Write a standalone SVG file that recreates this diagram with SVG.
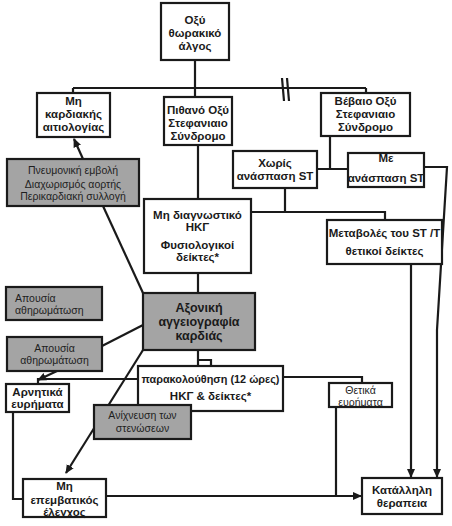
<svg xmlns="http://www.w3.org/2000/svg" width="452" height="526" viewBox="0 0 452 526">
<defs>
<marker id="ah" markerWidth="9" markerHeight="9" refX="8" refY="4.5" orient="auto" markerUnits="userSpaceOnUse">
<path d="M0,0.5 L9,4.5 L0,8.5 Z" fill="#1a1a1a"/>
</marker>
</defs>
<style>
.b{fill:#fff;stroke:#1a1a1a;stroke-width:2.2}
.g{fill:#a4a4a4;stroke:#1a1a1a;stroke-width:2.2}
.t{font-family:"Liberation Sans",Arial,sans-serif;font-size:11.5px;font-weight:bold;fill:#1a1a1a;text-anchor:middle}
.n{font-family:"Liberation Sans",Arial,sans-serif;font-size:10.5px;fill:#1e1e1e;text-anchor:middle}
.l{fill:none;stroke:#1a1a1a;stroke-width:2.2}
.a{fill:none;stroke:#1a1a1a;stroke-width:2.2;marker-end:url(#ah)}
</style>
<rect width="452" height="526" fill="#fff"/>
<g id="connectors">
<path class="l" d="M195,60 V88 M73,88 H366 M73,88 V93 M195,88 V97 M366,88 V93"/>
<path class="l" d="M282,78 L284,101 M287,78 L289,101"/>
<path class="l" d="M330,136 V169 M317,169 H348"/>
<path class="l" d="M424,167 H447 L437,330"/>
<path class="a" d="M437,330 V477"/>
<path class="l" d="M285,188 V212 M251,212 H385 V220"/>
<path class="l" d="M198,145 V199 M198,273 V293"/>
<path class="a" d="M411,264 V477"/>
<path class="a" d="M83,159 L74,139"/>
<path class="l" d="M103,206 L143,293"/>
<path class="l" d="M143,325 L102,346"/>
<path class="a" d="M57,371 L38,380"/>
<path class="l" d="M198,350 V366 M198,360 H211 V366"/>
<path class="l" d="M138,379 H38 V384"/>
<path class="l" d="M283,377 H362 V383"/>
<path class="a" d="M143,350 L66,473"/>
<path class="l" d="M13,412 V499 H23"/>
<path class="a" d="M106,496 H361"/>
<path class="l" d="M336,407 V496"/>
</g>
<g id="n_top"><rect class="b" x="161" y="3" width="68" height="57"/>
<text class="t" x="195" y="24">Οξύ</text><text class="t" x="195" y="37">θωρακικό</text><text class="t" x="195" y="50">άλγος</text></g>
<g id="n_noncard"><rect class="b" x="37" y="93" width="73" height="44"/>
<text class="t" x="73.5" y="105">Μη</text><text class="t" x="73.5" y="118">καρδιακής</text><text class="t" x="73.5" y="131">αιτιολογίας</text></g>
<g id="n_probable"><rect class="b" x="164" y="97" width="68" height="48"/>
<text class="t" x="198" y="114">Πιθανό Οξύ</text><text class="t" x="198" y="127">Στεφανιαιο</text><text class="t" x="198" y="140">Σύνδρομο</text></g>
<g id="n_certain"><rect class="b" x="321" y="93" width="89" height="43"/>
<text class="t" x="365.5" y="105">Βέβαιο Οξύ</text><text class="t" x="365.5" y="118">Στεφανιαιο</text><text class="t" x="365.5" y="131">Σύνδρομο</text></g>
<g id="n_nost"><rect class="b" x="233" y="151" width="84" height="37"/>
<text class="t" x="275" y="167">Χωρίς</text><text class="t" x="275" y="180">ανάσπαση ST</text></g>
<g id="n_st"><rect class="b" x="348" y="153" width="76" height="34"/>
<text class="t" x="386" y="162">Με</text><text class="t" x="386" y="182">ανάσπαση ST</text></g>
<g id="n_nondiag"><rect class="b" x="144" y="199" width="107" height="74"/>
<text class="t" x="197.5" y="219">Μη διαγνωστικό</text><text class="t" x="197.5" y="231">ΗΚΓ</text><text class="t" x="197.5" y="249">Φυσιολογικοί</text><text class="t" x="197.5" y="261">δείκτες*</text></g>
<g id="n_changes"><rect class="b" x="327" y="220" width="115" height="44"/>
<text class="t" x="384.5" y="237">Μεταβολές του ST /T</text><text class="t" x="384.5" y="255">θετικοί δείκτες</text></g>
<g id="n_pe"><rect class="g" x="7" y="159" width="132" height="47"/>
<text class="n" x="73" y="174">Πνευμονική εμβολή</text><text class="n" x="73" y="188">Διαχωρισμός αορτής</text><text class="n" x="73" y="200">Περικαρδιακή συλλογή</text></g>
<g id="n_abs1"><rect class="g" x="6" y="287" width="96" height="33"/>
<text class="n" x="15" y="302" style="text-anchor:start">Απουσία</text><text class="n" x="15" y="314" style="text-anchor:start">αθηρωμάτωση</text></g>
<g id="n_ct"><rect class="g" x="143" y="293" width="112" height="57"/>
<text class="t" x="199" y="312" style="font-size:12.5px">Αξονική</text><text class="t" x="199" y="326" style="font-size:12.5px">αγγειογραφία</text><text class="t" x="199" y="340" style="font-size:12.5px">καρδιάς</text></g>
<g id="n_abs2"><rect class="g" x="7" y="337" width="95" height="34"/>
<text class="n" x="54.5" y="352">Απουσία</text><text class="n" x="54.5" y="364">αθηρωμάτωση</text></g>
<g id="n_monitor"><rect class="b" x="138" y="366" width="145" height="45"/>
<text class="t" x="210.5" y="383" textLength="138" lengthAdjust="spacingAndGlyphs">παρακολούθηση (12 ώρες)</text><text class="t" x="210.5" y="400">ΗΚΓ &amp; δείκτες*</text></g>
<g id="n_neg"><rect class="b" x="6" y="384" width="63" height="28"/>
<text class="t" x="37.5" y="396">Αρνητικά</text><text class="t" x="37.5" y="408">ευρήματα</text></g>
<g id="n_pos"><rect class="b" x="329" y="383" width="63" height="24"/>
<text class="n" x="360.5" y="394">Θετικά</text><text class="n" x="360.5" y="406">ευρήματα</text></g>
<g id="n_detect"><rect class="g" x="94" y="405" width="97" height="34"/>
<text class="n" x="142.5" y="419">Ανίχνευση των</text><text class="n" x="142.5" y="432">στενώσεων</text></g>
<g id="n_noninv"><rect class="b" x="23" y="479" width="83" height="38"/>
<text class="t" x="64.5" y="490">Μη</text><text class="t" x="64.5" y="504">επεμβατικός</text><text class="t" x="64.5" y="516">έλεγχος</text></g>
<g id="n_therapy"><rect class="b" x="362" y="478" width="80" height="36"/>
<text class="t" x="402" y="494">Κατάλληλη</text><text class="t" x="402" y="507">θεραπεια</text></g>
</svg>
